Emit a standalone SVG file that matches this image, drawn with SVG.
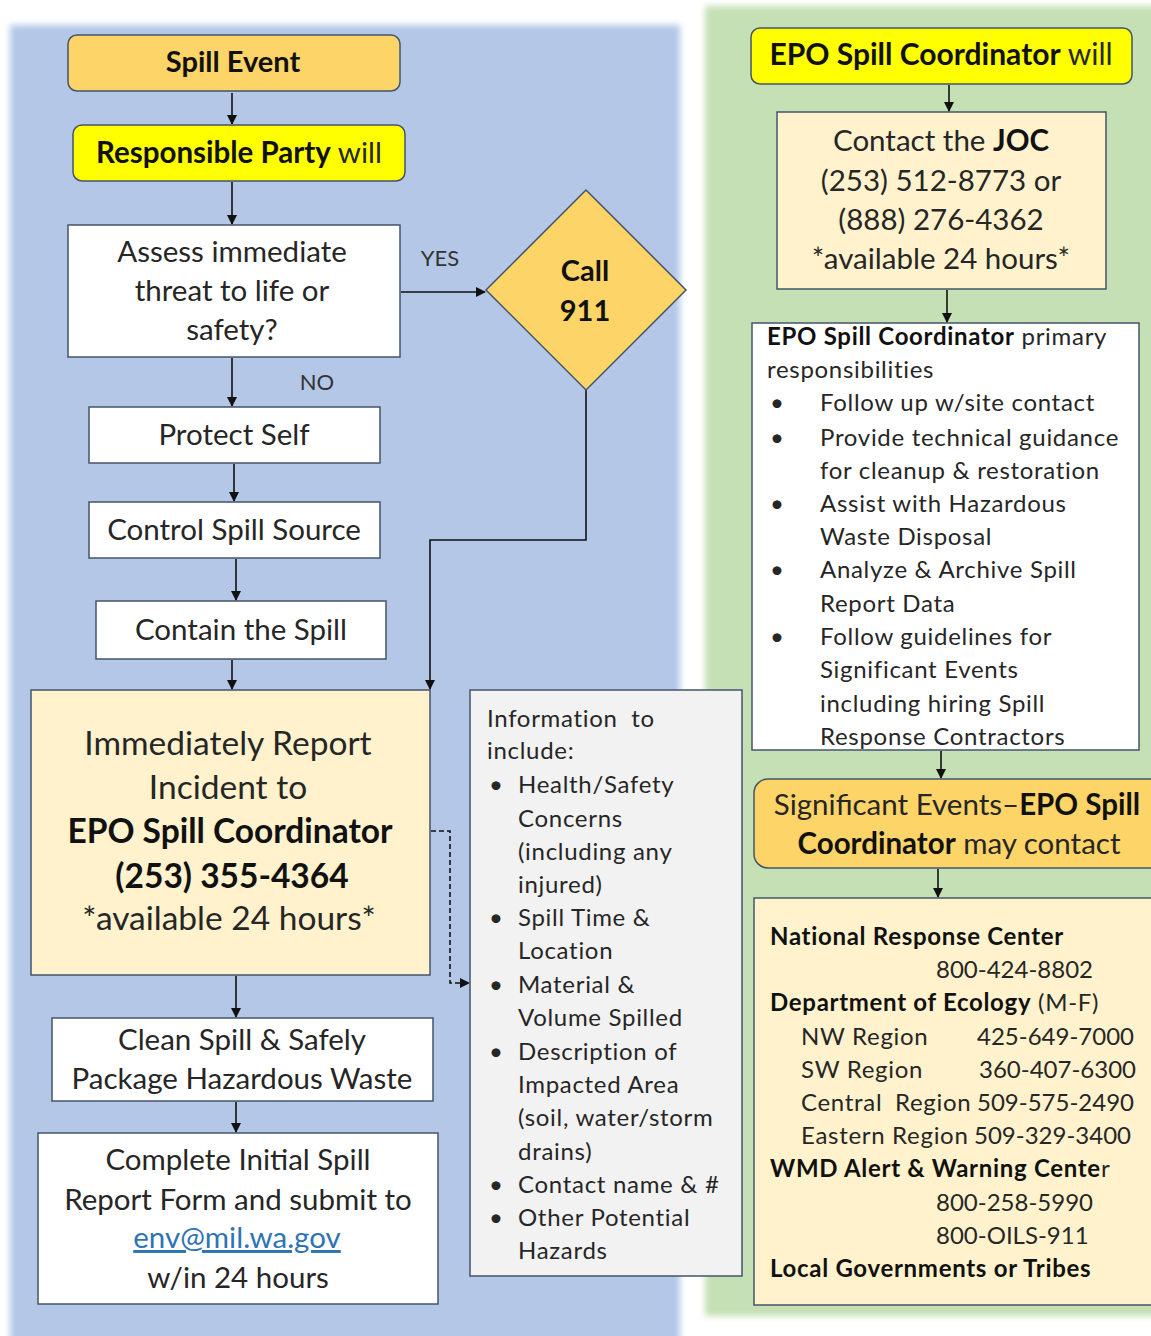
<svg xmlns="http://www.w3.org/2000/svg" width="1151" height="1336" viewBox="0 0 1151 1336">
<style>
text{font-family:Lato,"Liberation Sans",sans-serif;fill:#262626}
.b{font-weight:bold;fill:#111}
.box{stroke:#44546a;stroke-width:1.5}
.c{text-anchor:middle}
.f28{font-size:29.5px}
.f24{font-size:24px;letter-spacing:0.7px}
.n{letter-spacing:0}
.f32{font-size:33.5px}
.con{stroke:#111;stroke-width:1.6;fill:none}
</style>
<defs>
<marker id="ah" markerWidth="10" markerHeight="10" refX="9" refY="5" orient="auto" markerUnits="userSpaceOnUse">
<path d="M0,0 L10,5 L0,10 z" fill="#111"/>
</marker>
<filter id="soft" x="-5%" y="-5%" width="110%" height="110%"><feGaussianBlur stdDeviation="3"/></filter>
</defs>
<rect width="1151" height="1336" fill="#ffffff"/>
<rect x="10" y="25" width="670" height="1320" fill="#b4c7e7" filter="url(#soft)"/>
<rect x="705" y="6" width="460" height="1310" fill="#c5e0b4" filter="url(#soft)"/>

<g id="connectors">
<path class="con" d="M232,93 V124" marker-end="url(#ah)"/>
<path class="con" d="M232,182 V224" marker-end="url(#ah)"/>
<path class="con" d="M401,292 H485" marker-end="url(#ah)"/>
<path class="con" d="M232,358 V406" marker-end="url(#ah)"/>
<path class="con" d="M234,464 V501" marker-end="url(#ah)"/>
<path class="con" d="M236,559 V600" marker-end="url(#ah)"/>
<path class="con" d="M586,390 V540 H430 V689" marker-end="url(#ah)"/>
<path class="con" d="M232,660 V689" marker-end="url(#ah)"/>
<path class="con" d="M431,831 H450 V983 H469" stroke-dasharray="5,3" stroke="#44546a" marker-end="url(#ah)"/>
<path class="con" d="M236,976 V1017" marker-end="url(#ah)"/>
<path class="con" d="M236,1102 V1132" marker-end="url(#ah)"/>
<path class="con" d="M949,85 V111" marker-end="url(#ah)"/>
<path class="con" d="M947,290 V322" marker-end="url(#ah)"/>
<path class="con" d="M941,751 V778" marker-end="url(#ah)"/>
<path class="con" d="M938,869 V897" marker-end="url(#ah)"/>
<text x="440" y="266" class="c" style="font-size:22px;fill:#333">YES</text>
<text x="317" y="390" class="c" style="font-size:22px;fill:#333">NO</text>
</g>

<g id="spill-event">
<rect class="box" x="68" y="35" width="332" height="56" rx="9" fill="#fdd467"/>
<text x="233" y="72" class="c b" style="font-size:29px">Spill Event</text>
</g>
<g id="responsible-party">
<rect class="box" x="73" y="125" width="332" height="56" rx="9" fill="#ffff00"/>
<text x="239" y="163" class="c" style="font-size:29.5px"><tspan class="b">Responsible Party</tspan> will</text>
</g>
<g id="assess">
<rect class="box" x="68" y="225" width="332" height="132" fill="#ffffff"/>
<text x="232" y="262" class="c f28">Assess immediate</text>
<text x="232" y="301" class="c f28">threat to life or</text>
<text x="232" y="340" class="c f28">safety?</text>
</g>
<g id="call-911">
<polygon class="box" points="586,190 686,290 586,390 486,290" fill="#fdd467" stroke="#111" stroke-width="2"/>
<text x="585" y="281" class="c b" style="font-size:29px">Call</text>
<text x="585" y="321" class="c b" style="font-size:29px">911</text>
</g>
<g id="protect-self">
<rect class="box" x="89" y="407" width="291" height="56" fill="#ffffff"/>
<text x="234" y="445" class="c f28">Protect Self</text>
</g>
<g id="control-source">
<rect class="box" x="89" y="502" width="291" height="56" fill="#ffffff"/>
<text x="234" y="540" class="c f28">Control Spill Source</text>
</g>
<g id="contain">
<rect class="box" x="96" y="601" width="290" height="58" fill="#ffffff"/>
<text x="241" y="640" class="c f28">Contain the Spill</text>
</g>
<g id="report">
<rect class="box" x="31" y="690" width="399" height="285" fill="#fff2cc"/>
<text x="228" y="755" class="c f32">Immediately Report</text>
<text x="228" y="799" class="c f32">Incident to</text>
<text x="230" y="843" class="c b f32">EPO Spill Coordinator</text>
<text x="232" y="888" class="c b f32">(253) 355-4364</text>
<text x="229" y="930" class="c f32">*available 24 hours*</text>
</g>
<g id="info">
<rect class="box" x="470" y="690" width="272" height="586" fill="#f2f2f2"/>
<g class="f24">
<text x="487" y="727" xml:space="preserve">Information  to</text>
<text x="487" y="759">include:</text>
<text x="489" y="793">•</text><text x="518" y="793">Health/Safety</text>
<text x="518" y="827">Concerns</text>
<text x="518" y="860">(including any</text>
<text x="518" y="893">injured)</text>
<text x="489" y="926">•</text><text x="518" y="926">Spill Time &amp;</text>
<text x="518" y="959">Location</text>
<text x="489" y="993">•</text><text x="518" y="993">Material &amp;</text>
<text x="518" y="1026">Volume Spilled</text>
<text x="489" y="1060">•</text><text x="518" y="1060">Description of</text>
<text x="518" y="1093">Impacted Area</text>
<text x="518" y="1126">(soil, water/storm</text>
<text x="518" y="1160">drains)</text>
<text x="489" y="1193">•</text><text x="518" y="1193">Contact name &amp; #</text>
<text x="489" y="1226">•</text><text x="518" y="1226">Other Potential</text>
<text x="518" y="1259">Hazards</text>
</g>
</g>
<g id="clean">
<rect class="box" x="52" y="1018" width="381" height="83" fill="#ffffff"/>
<text x="242" y="1050" class="c f28">Clean Spill &amp; Safely</text>
<text x="242" y="1089" class="c f28">Package Hazardous Waste</text>
</g>
<g id="complete">
<rect class="box" x="38" y="1133" width="400" height="171" fill="#ffffff"/>
<text x="238" y="1170" class="c f28">Complete Initial Spill</text>
<text x="238" y="1210" class="c f28">Report Form and submit to</text>
<text x="237" y="1248" class="c f28" style="fill:#2e74b5;text-decoration:underline">env@mil.wa.gov</text>
<text x="238" y="1288" class="c f28">w/in 24 hours</text>
</g>

<g id="epo-will">
<rect class="box" x="751" y="28" width="381" height="56" rx="9" fill="#ffff00"/>
<text x="941" y="65" class="c" style="font-size:30px"><tspan class="b">EPO Spill Coordinator</tspan> will</text>
</g>
<g id="joc">
<rect class="box" x="777" y="112" width="329" height="177" fill="#fff2cc"/>
<text x="941" y="151" class="c f28">Contact the <tspan class="b">JOC</tspan></text>
<text x="941" y="191" class="c f28">(253) 512-8773 or</text>
<text x="941" y="230" class="c f28">(888) 276-4362</text>
<text x="941" y="269" class="c f28">*available 24 hours*</text>
</g>
<g id="responsibilities">
<rect class="box" x="752" y="323" width="387" height="427" fill="#ffffff"/>
<g class="f24">
<text x="767" y="345"><tspan class="b">EPO Spill Coordinator</tspan> primary</text>
<text x="767" y="378">responsibilities</text>
<text x="770" y="411">•</text><text x="820" y="411">Follow up w/site contact</text>
<text x="770" y="446">•</text><text x="820" y="446">Provide technical guidance</text>
<text x="820" y="479">for cleanup &amp; restoration</text>
<text x="770" y="512">•</text><text x="820" y="512">Assist with Hazardous</text>
<text x="820" y="545">Waste Disposal</text>
<text x="770" y="578">•</text><text x="820" y="578">Analyze &amp; Archive Spill</text>
<text x="820" y="612">Report Data</text>
<text x="770" y="645">•</text><text x="820" y="645">Follow guidelines for</text>
<text x="820" y="678">Significant Events</text>
<text x="820" y="712">including hiring Spill</text>
<text x="820" y="745">Response Contractors</text>
</g>
</g>
<g id="significant">
<rect class="box" x="754" y="779" width="410" height="89" rx="14" fill="#fdd467"/>
<text x="957" y="815" class="c f28">Significant Events–<tspan class="b">EPO Spill</tspan></text>
<text x="959" y="854" class="c f28"><tspan class="b">Coordinator</tspan> may contact</text>
</g>
<g id="contacts">
<rect class="box" x="754" y="898" width="410" height="407" fill="#fff2cc"/>
<g class="f24">
<text x="770" y="945" class="b">National Response Center</text>
<text x="936" y="978" class="n">800-424-8802</text>
<text x="770" y="1011"><tspan class="b">Department of Ecology</tspan> (M-F)</text>
<text x="801" y="1045">NW Region</text><text x="977" y="1045" class="n">425-649-7000</text>
<text x="801" y="1078">SW Region</text><text x="979" y="1078" class="n">360-407-6300</text>
<text x="801" y="1111">Central</text><text x="895" y="1111">Region</text><text x="977" y="1111" class="n">509-575-2490</text>
<text x="801" y="1144">Eastern Region</text><text x="974" y="1144" class="n">509-329-3400</text>
<text x="770" y="1177"><tspan class="b">WMD Alert &amp; Warning Cente</tspan>r</text>
<text x="936" y="1211" class="n">800-258-5990</text>
<text x="936" y="1244" class="n">800-OILS-911</text>
<text x="770" y="1277" class="b">Local Governments or Tribes</text>
</g>
</g>
</svg>
